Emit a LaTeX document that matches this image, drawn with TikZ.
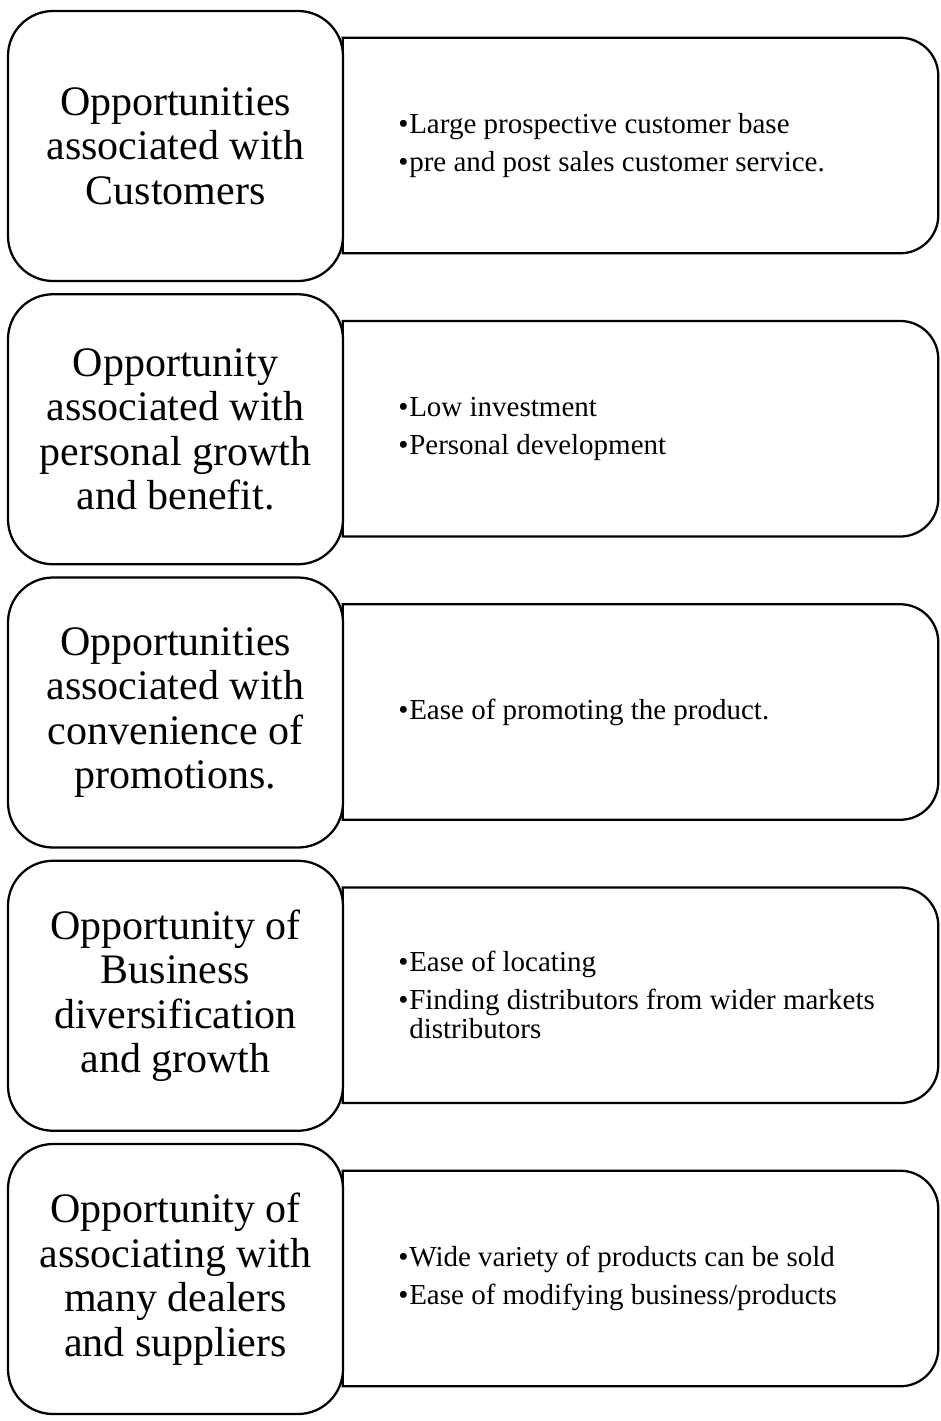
\documentclass[tikz,border=0pt]{standalone}
\usepackage{fontspec}
\setmainfont{Liberation Serif}
\newcommand\bulletmark{\makebox[8.25pt][l]{•}}
\tikzset{
  leftbox/.style={draw, line width=1.7pt, fill=white, rounded corners=33.75pt,
    minimum width=251.25pt, minimum height=202.5pt, align=center, inner sep=0pt,
    font=\fontsize{31.5pt}{33.4pt}\selectfont},
  rightbox/.style={minimum width=446.25pt, minimum height=161.25pt, inner sep=0pt},
  rightedge/.style={line width=1.7pt},
  bullets/.style={anchor=west, align=left, inner sep=0pt,
    font=\fontsize{21.75pt}{21.75pt}\selectfont},
}
\newcommand\rightoutline[1]{%
  \draw[rightedge] (#1.north west) -- ([xshift=-28.5pt]#1.north east)
    arc[start angle=90,end angle=0,radius=28.5pt]
    -- ([yshift=28.5pt]#1.south east)
    arc[start angle=0,end angle=-90,radius=28.5pt]
    -- (#1.south west) -- cycle;}
\begin{document}
\begin{tikzpicture}[x=0.75pt,y=-0.75pt]
\useasboundingbox (0,0) rectangle (941,1421);
% right boxes
\node[rightbox] (r1) at (640.5,145.5) {};
\node[rightbox] (r2) at (640.5,428.75) {};
\node[rightbox] (r3) at (640.5,712) {};
\node[rightbox] (r4) at (640.5,995.25) {};
\node[rightbox] (r5) at (640.5,1278.5) {};
\rightoutline{r1}
\rightoutline{r2}
\rightoutline{r3}
\rightoutline{r4}
\rightoutline{r5}
% left boxes
\node[leftbox] (l1) at (175.5,146) {Opportunities\\associated with\\Customers};
\node[leftbox] (l2) at (175.5,429.25) {Opportunity\\associated with\\personal growth\\and benefit.};
\node[leftbox] (l3) at (175.5,712.5) {Opportunities\\associated with\\convenience of\\promotions.};
\node[leftbox] (l4) at (175.5,995.75) {Opportunity of\\Business\\diversification\\and growth};
\node[leftbox] (l5) at (175.5,1279) {Opportunity of\\associating with\\many dealers\\and suppliers};
% bullet texts
\node[bullets] (t1) at (398,145.5) {\bulletmark Large prospective customer base\\[6.75pt]\bulletmark pre and post sales customer service.};
\node[bullets] (t2) at (398,428.75) {\bulletmark Low investment\\[6.75pt]\bulletmark Personal development};
\node[bullets] (t3) at (398,712) {\bulletmark Ease of promoting the product.};
\node[bullets] (t4) at (398,995.25) {\bulletmark Ease of locating\\[6.75pt]\bulletmark Finding distributors from wider markets\\\hspace*{8.25pt}distributors};
\node[bullets] (t5) at (398,1278.5) {\bulletmark Wide variety of products can be sold\\[6.75pt]\bulletmark Ease of modifying business/products};
\end{tikzpicture}
\end{document}
